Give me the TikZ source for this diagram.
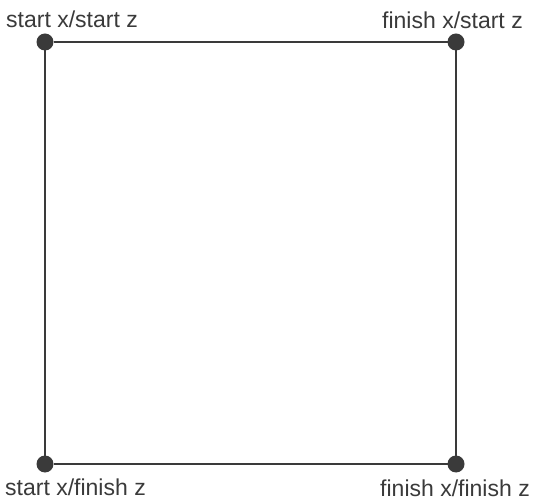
\documentclass[tikz,border=0pt]{standalone}
\usepackage{fontspec}
\setmainfont{Liberation Sans}
\definecolor{ink}{HTML}{3A3A3A}
\begin{document}
\begin{tikzpicture}[x=1pt, y=1pt, dot/.style={circle, fill=ink, inner sep=0pt, outer sep=0pt, minimum size=17pt}, lbl/.style={inner sep=0pt, text=ink, font=\fontsize{23}{26}\selectfont}]
			\useasboundingbox (0, 0) rectangle (533, 501);
			\node[dot] (a) at (45, 459) {};
			\node[dot] (b) at (456, 459) {};
			\node[dot] (c) at (45, 37) {};
			\node[dot] (d) at (456, 37) {};
			\draw[ink, line width=2.5pt] (a) -- (b) -- (d) -- (c) -- (a);
			\node[lbl, anchor=base west] (la) at (6, 473) {start x/start z};
			\node[lbl, anchor=base east] (lb) at (523, 472.5) {finish x/start z};
			\node[lbl, anchor=base west] (lc) at (5, 5.5) {start x/finish z};
			\node[lbl, anchor=base east] (ld) at (530, 5) {finish x/finish z};
		\end{tikzpicture}
\end{document}
